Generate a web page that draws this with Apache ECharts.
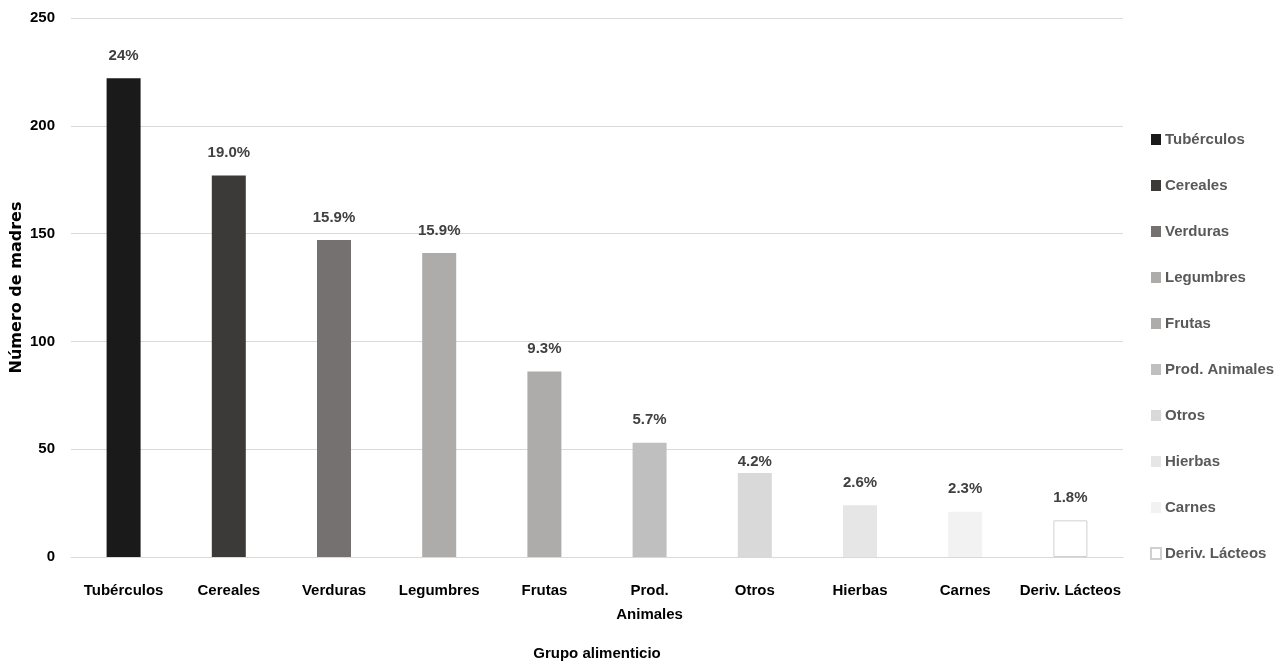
<!DOCTYPE html>
<html>
<head>
<meta charset="utf-8">
<script src="https://cdn.jsdelivr.net/npm/echarts@6/dist/echarts.min.js"></script>
<style>
  html, body { margin: 0; padding: 0; background: #fff; }
  #chart { width: 1283px; height: 666px; }
</style>
</head>
<body>
<div id="chart"></div>
<script>
// food groups, number of mothers and the share labels shown above the bars
const categories = ['Tubérculos', 'Cereales', 'Verduras', 'Legumbres', 'Frutas',
  'Prod. Animales', 'Otros', 'Hierbas', 'Carnes', 'Deriv. Lácteos'];
const counts = [222, 177, 147, 141, 86, 53, 39, 24, 21, 17];
const shares = ['24%', '19.0%', '15.9%', '15.9%', '9.3%', '5.7%', '4.2%', '2.6%', '2.3%', '1.8%'];
const barColors = ['#1a1a1a', '#3b3a38', '#767171', '#aeabab', '#aeabab',
  '#bfbfbf', '#d9d9d9', '#e7e6e6', '#f2f2f2', '#ffffff'];
const yTicks = [0, 50, 100, 150, 200, 250];

const narrow = '"Liberation Sans Narrow", "Liberation Sans", sans-serif';

// one series per group so each gets its own legend entry; stacked so bars stay centred
const series = categories.map((name, i) => ({
  name,
  type: 'bar',
  stack: 'all',
  barWidth: 34,
  itemStyle: {
    color: barColors[i],
    borderColor: i === categories.length - 1 ? '#d0d0d0' : barColors[i],
    borderWidth: i === categories.length - 1 ? 1 : 0
  },
  label: {
    show: true,
    position: 'top',
    distance: name === 'Otros' ? 4 : 15,
    formatter: () => shares[i],
    color: '#404040',
    fontFamily: narrow,
    fontWeight: 'bold',
    fontSize: 15
  },
  data: categories.map((_, j) => (j === i ? counts[i] : '-'))
}));

const chart = echarts.init(document.getElementById('chart'));
chart.setOption({
  animation: false,
  backgroundColor: '#fff',
  grid: { left: 71, right: 160, top: 18, bottom: 109, outerBoundsMode: 'none' },
  legend: {
    orient: 'vertical',
    left: 1150,
    top: 132,
    padding: 0,
    itemWidth: 10,
    itemHeight: 11,
    itemGap: 31,
    icon: 'rect',
    textStyle: {
      color: '#595959',
      fontFamily: narrow,
      fontWeight: 'bold',
      fontSize: 15,
      padding: [0, 0, 0, -1]
    },
    data: categories
  },
  xAxis: {
    type: 'category',
    data: categories,
    name: 'Grupo alimenticio',
    nameLocation: 'middle',
    nameGap: 89,
    nameTextStyle: { color: '#000', fontFamily: narrow, fontWeight: 'bold', fontSize: 15 },
    axisLine: { lineStyle: { color: '#d9d9d9', width: 1 } },
    axisTick: { show: false },
    axisLabel: {
      interval: 0,
      margin: 22,
      color: '#000',
      fontFamily: narrow,
      fontWeight: 'bold',
      fontSize: 15,
      lineHeight: 24,
      formatter: (v) => v === 'Prod. Animales' ? 'Prod.\nAnimales' : v
    }
  },
  yAxis: {
    type: 'value',
    min: yTicks[0],
    max: yTicks[yTicks.length - 1],
    interval: 50,
    name: 'Número de madres',
    nameLocation: 'middle',
    nameGap: 46,
    nameMoveOverlap: false,
    nameTextStyle: { color: '#000', fontFamily: '"DejaVu Sans", sans-serif', fontWeight: 'bold', fontSize: 16 },
    axisLine: { show: false },
    axisTick: { show: false },
    splitLine: { lineStyle: { color: '#d9d9d9', width: 1 } },
    axisLabel: {
      margin: 16,
      color: '#000',
      fontFamily: narrow,
      fontWeight: 'bold',
      fontSize: 15
    }
  },
  series
});
</script>
</body>
</html>
